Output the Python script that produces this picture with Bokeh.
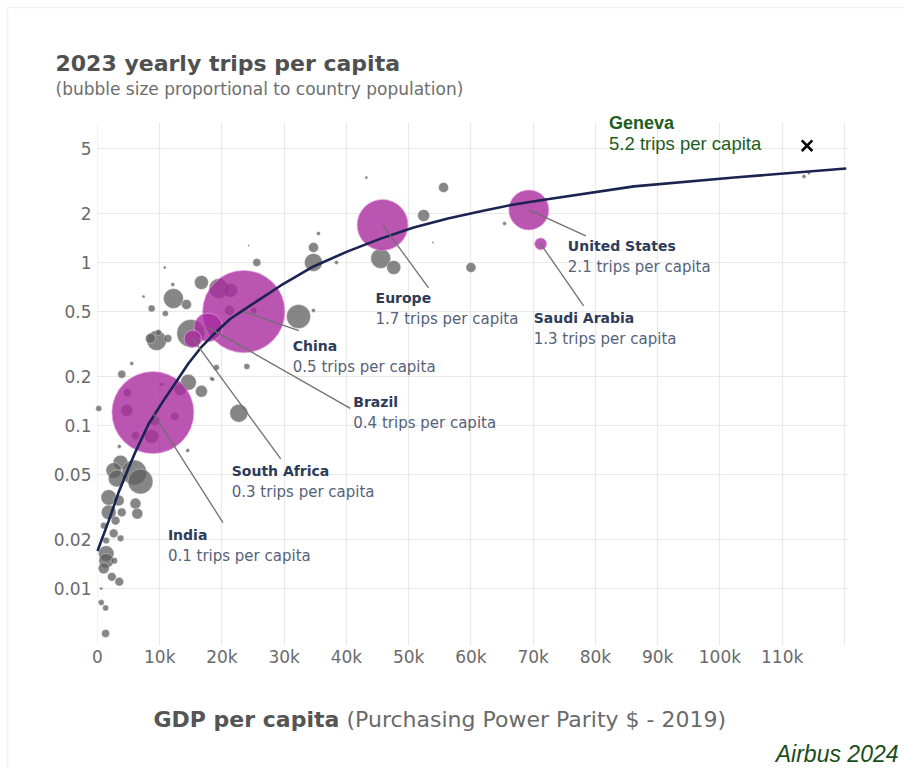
import math

from bokeh.embed import file_html
from bokeh.models import (BoxAnnotation, ColumnDataSource, CustomJSTickFormatter,
                          FixedTicker, Label, Range1d)
from bokeh.plotting import figure
from bokeh.resources import INLINE

# ---------------------------------------------------------------- data
# Highlighted regions: GDP per capita (PPP, thousand $), trips per capita, population (millions)
hl_names = ["India", "China", "Brazil", "South Africa", "Europe", "United States", "Saudi Arabia"]
hl_gdp_k = [8.9, 23.5, 17.8, 15.3, 45.8, 69.3, 71.2]
hl_trips = [0.12, 0.5, 0.4, 0.34, 1.7, 2.1, 1.3]
hl_pop_m = [1400, 1410, 170, 62, 540, 333, 30]

# Other countries
other_gdp_k = [16.7, 12.2, 14.3, 8.7, 10.9, 12.1, 10.8, 7.4, 9.5, 8.5, 11.3, 9.8, 5.5, 15.0,
               4.8, 4.7, 9.2, 8.7, 6.1, 12.4, 10.3, 13.3, 3.9, 14.6, 16.7, 0.2, 3.5, 14.5,
               18.3, 3.7, 5.9, 2.6, 3.1, 6.9, 1.8, 3.4, 6.1, 1.8, 3.9, 6.4, 2.9, 1.0, 2.6,
               3.7, 1.4, 1.4, 1.4, 2.7, 1.0, 2.3, 3.5, 0.6, 0.6, 1.3, 1.3, 25.6, 34.7, 34.7,
               38.4, 32.3, 34.7, 24.0, 19.1, 18.5, 22.7, 35.5, 24.3, 19.5, 21.4, 21.2, 25.1,
               43.2, 55.6, 52.4, 53.9, 45.5, 47.6, 60.0, 65.4, 113.5, 114.3]
other_trips = [0.754, 0.601, 0.552, 0.522, 0.487, 0.733, 0.932, 0.618, 0.332, 0.342, 0.342,
               0.372, 0.240, 0.367, 0.159, 0.124, 0.107, 0.0856, 0.0868, 0.114, 0.179, 0.166,
               0.206, 0.184, 0.162, 0.127, 0.0743, 0.0702, 0.194, 0.0593, 0.0515, 0.0530,
               0.0473, 0.0453, 0.0362, 0.0347, 0.0332, 0.0293, 0.0293, 0.0288, 0.0261, 0.0243,
               0.0218, 0.0203, 0.0197, 0.0164, 0.0148, 0.0148, 0.0133, 0.0118, 0.0110, 0.0100,
               0.0082, 0.0076, 0.0053, 1.0, 1.236, 1.0, 1.0, 0.466, 0.508, 0.230, 0.227,
               0.192, 0.119, 1.506, 1.271, 0.693, 0.674, 0.508, 0.508, 3.32, 2.885, 1.943,
               1.327, 1.058, 0.932, 0.932, 1.735, 3.37, 3.52]
other_pop_m = [40.8, 83, 20.8, 10.2, 7.5, 3.3, 1.9, 1.9, 83, 20.8, 13.3, 7.5, 3.3, 163,
               13.3, 30, 20.8, 40.8, 13.3, 13.3, 3.3, 30, 13.3, 53.3, 30, 7.5, 3.3, 3.3,
               3.3, 45, 130, 50, 60, 130, 50, 25, 25, 45, 16, 25, 16, 9,
               16, 9, 9, 50, 45, 9, 25, 16, 16, 1.9, 7.5, 7.5, 13.3, 13.3,
               20.8, 67.4, 3.3, 120, 3.3, 7.5, 7.5, 3.3, 67.4, 3.3, 0.8, 83, 40.8, 20.8, 7.5,
               1.9, 20.8, 30, 0.8, 83, 40.8, 20.8, 3.3, 3.3, 1.9]

# Fitted trend of trips against GDP per capita
curve_gdp_k = [0, 1.8, 3.4, 5.0, 6.1, 8.2, 10.6, 12.7, 14.6, 16.6, 18.6, 21.3, 24.1, 29.4,
               34.7, 40.2, 45.5, 50.8, 56.3, 61.6, 66.9, 72.3, 86.2, 102.3, 120.3]
curve_trips = [0.017, 0.026, 0.039, 0.055, 0.069, 0.102, 0.142, 0.187, 0.24, 0.30, 0.36,
               0.45, 0.53, 0.72, 0.945, 1.17, 1.40, 1.64, 1.86, 2.06, 2.27, 2.44, 2.93, 3.32,
               3.77]

# Geneva
geneva_gdp_k = 114.0
geneva_trips = 5.2

y_ticks = [0.01, 0.02, 0.05, 0.1, 0.2, 0.5, 1, 2, 5]
x_ticks_k = [0, 10, 20, 30, 40, 50, 60, 70, 80, 90, 100, 110, 120]

# ---------------------------------------------------------------- layout
W, H = 904, 769
# plotting area inside the canvas (px)
AREA_L, AREA_R, AREA_T, AREA_B = 97, 847, 122, 645
X_START, X_END = 0, 120.5
Y_START, Y_END = 0.00447, 7.22
PX_PER_K = (AREA_R - AREA_L) / (X_END - X_START)
PX_PER_DECADE = (AREA_B - AREA_T) / (math.log10(Y_END) - math.log10(Y_START))
BUBBLE_PX = 2.19  # diameter per sqrt(million people)

# the frame spans the whole canvas; ranges are widened to match
CANVAS_X = (X_START - AREA_L / PX_PER_K, X_END + (W - AREA_R) / PX_PER_K)
CANVAS_Y = (10 ** (math.log10(Y_START) - (H - AREA_B) / PX_PER_DECADE),
            10 ** (math.log10(Y_END) + AREA_T / PX_PER_DECADE))

SANS = "DejaVu Sans"
ARIAL = "Liberation Sans"
NAME_COLOR = "#2d3b58"
VALUE_COLOR = "#56627a"
GREEN = "#1d5e1d"

# leader line end and label (name centre) offsets from each bubble, in px (down = +)
line_dx = [70, 55, 142, 88, 46, 57, 43]
line_dy = [110, 19, 81, 120, 63, 26, 62]
text_dx = [15, 49, 145, 39, -7, 39, -7]
text_dy = [122, 34, 75, 132, 73, 36, 74]
LINE_GAP = 21

p = figure(width=W, height=H, output_backend="svg", toolbar_location=None,
           x_range=Range1d(*CANVAS_X), y_range=Range1d(*CANVAS_Y), y_axis_type="log",
           min_border=0, min_border_left=0, min_border_right=0,
           min_border_top=0, min_border_bottom=0)
p.outline_line_color = None
p.background_fill_color = "white"
p.border_fill_color = "white"

for ax in (p.xaxis[0], p.yaxis[0]):
    ax.axis_line_color = None
    ax.major_tick_line_color = None
    ax.minor_tick_line_color = None
    ax.major_tick_out = 0
    ax.major_tick_in = 0
    ax.minor_tick_out = 0
    ax.major_label_text_font = SANS
    ax.major_label_text_font_size = "17px"
    ax.major_label_text_color = "#6a6a6a"

p.yaxis.ticker = FixedTicker(ticks=y_ticks)
p.yaxis.formatter = CustomJSTickFormatter(code="return String(tick);")
p.yaxis.major_label_standoff = 6
p.yaxis.fixed_location = X_START
p.xaxis.ticker = FixedTicker(ticks=x_ticks_k)
p.xaxis.formatter = CustomJSTickFormatter(
    code="return tick == 0 ? '0' : (tick >= 120 ? '' : tick + 'k');")
p.xaxis.major_label_standoff = 1
p.xaxis.fixed_location = Y_START

p.xgrid.grid_line_color = "#e9e9e9"
p.ygrid.grid_line_color = "#e9e9e9"
p.xgrid.grid_line_width = 1.2
p.ygrid.grid_line_width = 1.2


def screen_box(l, r, t, b, **kw):
    # canvas px (top-left origin) -> screen units measured from the frame's bottom-left
    return BoxAnnotation(left=l, right=r, top=H - t, bottom=H - b,
                         left_units="screen", right_units="screen",
                         top_units="screen", bottom_units="screen", **kw)


# keep the grid inside the plotting area
for l, r, t, b in [(-10, W + 10, -10, AREA_T), (-10, W + 10, AREA_B, H + 10),
                   (-10, AREA_L, -10, H + 10), (AREA_R, W + 10, -10, H + 10)]:
    p.add_layout(screen_box(l, r, t, b, fill_color="white", fill_alpha=1,
                            line_color=None, level="underlay"))

# bubbles
other_src = ColumnDataSource(dict(
    x=other_gdp_k, y=other_trips,
    size=[BUBBLE_PX * math.sqrt(v) for v in other_pop_m]))
p.scatter("x", "y", size="size", source=other_src, fill_color="#5e5e5e", fill_alpha=0.75,
          line_color="#ffffff", line_alpha=0.35, line_width=1)

hl_src = ColumnDataSource(dict(
    x=hl_gdp_k, y=hl_trips,
    size=[BUBBLE_PX * math.sqrt(v) for v in hl_pop_m]))
p.scatter("x", "y", size="size", source=hl_src, fill_color="#a92a9f", fill_alpha=0.8,
          line_color="#e7a3e1", line_alpha=0.7, line_width=1)

# trend curve
p.line(curve_gdp_k, curve_trips, line_color="#1b2350", line_width=2.6)


def shift(gdp, trips, dx, dy):
    return gdp + dx / PX_PER_K, trips * 10 ** (-dy / PX_PER_DECADE)


# leader lines
x0s, y0s, x1s, y1s = [], [], [], []
for g, t, dx, dy in zip(hl_gdp_k, hl_trips, line_dx, line_dy):
    gx, ty = shift(g, t, dx, dy)
    x0s.append(g)
    y0s.append(t)
    x1s.append(gx)
    y1s.append(ty)
p.segment(x0s, y0s, x1s, y1s, line_color="#707070", line_width=1.3)

# region labels
for name, g, t, tx, ty in zip(hl_names, hl_gdp_k, hl_trips, text_dx, text_dy):
    p.add_layout(Label(x=g, y=t, x_offset=tx, y_offset=-ty, text=name,
                       text_font=SANS, text_font_style="bold", text_font_size="14px",
                       text_color=NAME_COLOR, text_baseline="middle", text_align="left"))
    p.add_layout(Label(x=g, y=t, x_offset=tx, y_offset=-(ty + LINE_GAP),
                       text=f"{t:.1f} trips per capita",
                       text_font=SANS, text_font_size="15px",
                       text_color=VALUE_COLOR, text_baseline="middle", text_align="left"))

# Geneva
p.scatter([geneva_gdp_k], [geneva_trips], marker="x", size=15, line_color="black",
          line_width=2.6)
p.add_layout(Label(x=geneva_gdp_k, y=geneva_trips, x_offset=-198, y_offset=23,
                   text="Geneva", text_font=ARIAL, text_font_style="bold",
                   text_font_size="18px", text_color=GREEN, text_baseline="middle"))
p.add_layout(Label(x=geneva_gdp_k, y=geneva_trips, x_offset=-198, y_offset=2,
                   text=f"{geneva_trips:.1f} trips per capita", text_font=ARIAL,
                   text_font_size="18.5px", text_color=GREEN, text_baseline="middle"))


def canvas_label(cx, cy, text, **kw):
    p.add_layout(Label(x=cx, y=H - cy, x_units="screen", y_units="screen",
                       text=text, text_baseline="middle", **kw))


canvas_label(55, 63, "2023 yearly trips per capita", text_font=SANS,
             text_font_size="22px", text_font_style="bold", text_color="#505050")
canvas_label(55, 88, "(bubble size proportional to country population)", text_font=SANS,
             text_font_size="17px", text_color="#6e6e6e")
canvas_label(153, 719, "GDP per capita", text_font=SANS, text_font_size="22px",
             text_font_style="bold", text_color="#555555")
canvas_label(346, 719, "(Purchasing Power Parity $ - 2019)", text_font=SANS,
             text_font_size="22px", text_color="#6a6a6a")
canvas_label(898, 753, "Airbus 2024", text_font=ARIAL, text_font_size="23px",
             text_font_style="italic", text_color="#1a4d1a", text_align="right")

# page frame lines
p.add_layout(screen_box(7, W + 20, 7, H + 20, fill_alpha=0, line_color="#d2d2d2",
                        line_width=1.5))

open("out.html", "w").write(file_html(p, INLINE))
